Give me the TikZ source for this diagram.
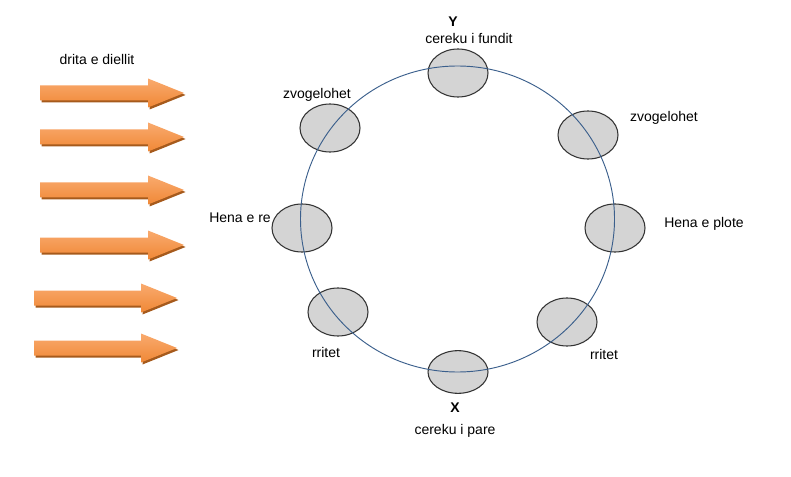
\documentclass[tikz,border=0pt]{standalone}
\usepackage{fontspec}
\setmainfont{Liberation Sans}
\usetikzlibrary{positioning, shapes.geometric}
\usepackage{xcolor}
\definecolor{orbitblue}{HTML}{3B5F8C}
\definecolor{moongray}{HTML}{D4D4D4}
\definecolor{sunlight}{HTML}{F9AA6E}
\definecolor{sundark}{HTML}{F08836}
\definecolor{sunshadow}{HTML}{A65A1C}

\tikzset{
  moon/.style={ellipse, draw=black!80, fill=moongray, line width=0.8pt,
    minimum width=45pt, minimum height=36pt, inner sep=0pt},
  phase/.style={font=\fontsize{10.5}{12.5}\selectfont, inner sep=1pt},
  pole/.style={font=\fontsize{10.5}{12.5}\selectfont\bfseries, inner sep=1pt}
}

\begin{document}
\begin{tikzpicture}[x=0.75pt, y=-0.75pt]
  \useasboundingbox (0,0) rectangle (791,477);

  % sunlight
  \node[phase] (sun) at (97,59) {drita e diellit};
  \foreach \l/\t/\c in {40/184/93, 40/184/137, 40/184/190, 40/184/245, 34/177/298, 34/177/348} {
    \fill[sunshadow] (\l+1.5,\c-5.5) -- (\t-34.5,\c-5.5) -- (\t-34.5,\c-12.5) -- (\t+1.5,\c+2)
      -- (\t-34.5,\c+16.5) -- (\t-34.5,\c+9.5) -- (\l+1.5,\c+9.5) -- cycle;
    \shade[top color=sunlight, bottom color=sundark] (\l,\c-7.5) -- (\t-36,\c-7.5) -- (\t-36,\c-14.5) -- (\t,\c)
      -- (\t-36,\c+14.5) -- (\t-36,\c+7.5) -- (\l,\c+7.5) -- cycle;
  }

  % moons
  \node[moon] (newmoon) at (302,228) {};
  \node[moon] (wantl) at (330,128) {};
  \node[moon] (apogee) at (458,73) {};
  \node[moon] (wantr) at (588,135) {};
  \node[moon] (fullmoon) at (615,228) {};
  \node[moon] (waxr) at (567,322) {};
  \node[moon, minimum height=32pt] (perigee) at (458,372) {};
  \node[moon] (waxl) at (338,312) {};

  % orbit
  \draw[orbitblue, line width=0.7pt] (457.5,219) ellipse [x radius=157, y radius=153];

  % labels
  \node[pole] (ylab) at (453,22) {Y};
  \node[phase] at (469,38) {cereku i fundit};
  \node[phase] at (317,95) {zvogelohet};
  \node[phase] at (664,118) {zvogelohet};
  \node[phase] at (240,218) {Hena e re};
  \node[phase] at (704,224) {Hena e plote};
  \node[phase] at (326,352) {rritet};
  \node[phase] at (604,354) {rritet};
  \node[pole] (xlab) at (455,408) {X};
  \node[phase] at (455,431) {cereku i pare};
\end{tikzpicture}
\end{document}
